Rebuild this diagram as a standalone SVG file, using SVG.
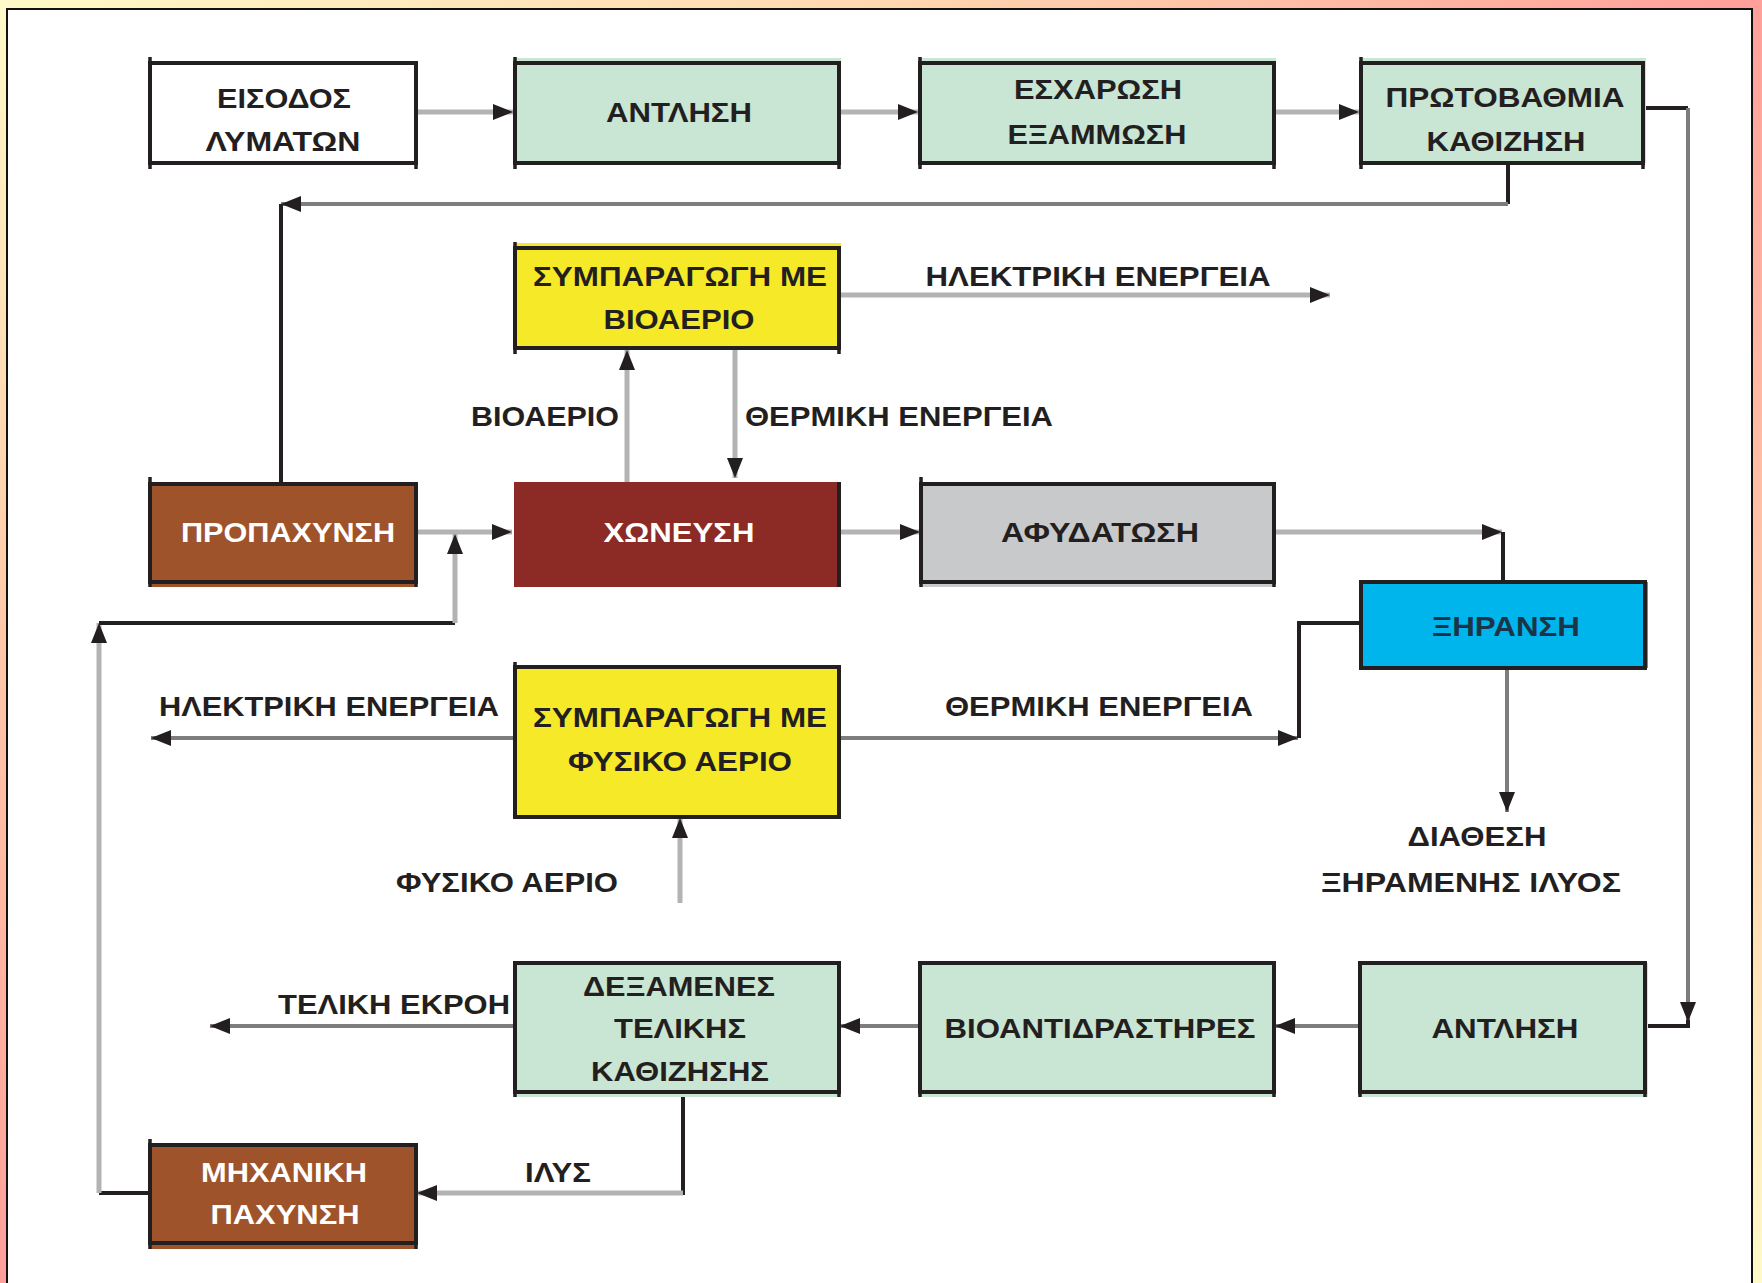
<svg xmlns="http://www.w3.org/2000/svg" width="1762" height="1283" viewBox="0 0 1762 1283">
<defs>
<linearGradient id="gTop" x1="0" y1="0" x2="1" y2="0"><stop offset="0" stop-color="#fffac8"/><stop offset="0.5" stop-color="#ffd8b0"/><stop offset="1" stop-color="#ff9f9a"/></linearGradient>
<linearGradient id="gLeft" x1="0" y1="0" x2="0" y2="1"><stop offset="0" stop-color="#fffac8"/><stop offset="0.5" stop-color="#ffc8a8"/><stop offset="1" stop-color="#ff9f9a"/></linearGradient>
<linearGradient id="gRight" x1="0" y1="0" x2="0" y2="1"><stop offset="0" stop-color="#ff9f9a"/><stop offset="0.5" stop-color="#ffc8a8"/><stop offset="1" stop-color="#fffac8"/></linearGradient>
<marker id="ah" viewBox="0 0 20 16" refX="20" refY="8" markerWidth="20" markerHeight="16" markerUnits="userSpaceOnUse" orient="auto"><path d="M0,0 L20,8 L0,16 Z" fill="#231f20"/></marker>
<style>
.t{font-family:"Liberation Sans",Arial,sans-serif;font-weight:bold;font-size:28px;fill:#231f20;text-anchor:middle}
.w{fill:#ffffff}
.b{fill:none;stroke:#231f20;stroke-width:4}
.tick{fill:none;stroke:#231f20;stroke-width:3.5}
.lg{fill:none;stroke:#b3b3b3;stroke-width:5}
.dg{fill:none;stroke:#7d7d7d;stroke-width:4}
.bk{fill:none;stroke:#231f20;stroke-width:4}
.green{fill:#c9e5d3}
.yel{fill:#f6e928}
.brown{fill:#9f532b}
</style>
</defs>
<rect x="0" y="0" width="1762" height="1283" fill="#ffd8b0"/>
<rect x="0" y="0" width="1762" height="12" fill="url(#gTop)"/>
<rect x="0" y="0" width="9" height="1283" fill="url(#gLeft)"/>
<rect x="1751" y="0" width="11" height="1283" fill="url(#gRight)"/>
<rect x="7" y="9" width="1745" height="1290" fill="#ffffff" stroke="#111" stroke-width="2"/>

<g id="connectors">
<path class="lg" d="M416,112 H513" marker-end="url(#ah)"/>
<path class="lg" d="M839,112 H918" marker-end="url(#ah)"/>
<path class="lg" d="M1274,112 H1359" marker-end="url(#ah)"/>
<path class="bk" d="M1508,165 V204"/>
<path class="dg" d="M1508,204 H281" marker-end="url(#ah)"/>
<path class="bk" d="M281,204 V484"/>
<path class="bk" d="M1643,108 H1688"/>
<path class="dg" d="M1688,108 V1022" marker-end="url(#ah)"/>
<path class="bk" d="M1688,1020 V1026 H1645"/>
<path class="lg" d="M627,482 V350" marker-end="url(#ah)"/>
<path class="lg" d="M735,348 V478" marker-end="url(#ah)"/>
<path class="lg" d="M839,295 H1330" marker-end="url(#ah)"/>
<path class="lg" d="M416,532 H512" marker-end="url(#ah)"/>
<path class="lg" d="M839,532 H920" marker-end="url(#ah)"/>
<path class="lg" d="M1274,532 H1502" marker-end="url(#ah)"/>
<path class="bk" d="M1503,532 V582"/>
<path class="dg" d="M1507,668 V812" marker-end="url(#ah)"/>
<path class="bk" d="M150,1193 H99"/>
<path class="lg" d="M99,1193 V623" marker-end="url(#ah)"/>
<path class="bk" d="M99,623 H455"/>
<path class="lg" d="M455,623 V534" marker-end="url(#ah)"/>
<path class="dg" d="M515,738 H151" marker-end="url(#ah)"/>
<path class="dg" d="M839,738 H1298" marker-end="url(#ah)"/>
<path class="bk" d="M1299,738 V623 H1361"/>
<path class="lg" d="M680,903 V818" marker-end="url(#ah)"/>
<path class="dg" d="M515,1026 H210" marker-end="url(#ah)"/>
<path class="dg" d="M920,1026 H840" marker-end="url(#ah)"/>
<path class="dg" d="M1360,1026 H1275" marker-end="url(#ah)"/>
<path class="bk" d="M683,1092 V1195"/>
<path class="lg" d="M683,1193 H417" marker-end="url(#ah)"/>
</g>

<g id="n-eisodos">
<rect x="150" y="63" width="266" height="100" fill="#ffffff" class="b"/>
<path class="tick" d="M150,57 V169 M416,163 V169"/>
<text class="t" x="284" y="108" textLength="134" lengthAdjust="spacingAndGlyphs">ΕΙΣΟΔΟΣ</text>
<text class="t" x="283" y="151" textLength="155" lengthAdjust="spacingAndGlyphs">ΛΥΜΑΤΩΝ</text>
</g>
<g id="n-antlisi1">
<rect x="515" y="58" width="326" height="105" class="green"/>
<rect x="515" y="63" width="324" height="100" class="b"/>
<path class="tick" d="M515,57 V169 M839,163 V169"/>
<text class="t" x="679" y="122" textLength="146" lengthAdjust="spacingAndGlyphs">ΑΝΤΛΗΣΗ</text>
</g>
<g id="n-escharosi">
<rect x="920" y="58" width="356" height="105" class="green"/>
<rect x="920" y="63" width="354" height="100" class="b"/>
<path class="tick" d="M920,57 V169 M1274,163 V169"/>
<text class="t" x="1098" y="99" textLength="168" lengthAdjust="spacingAndGlyphs">ΕΣΧΑΡΩΣΗ</text>
<text class="t" x="1097" y="144" textLength="179" lengthAdjust="spacingAndGlyphs">ΕΞΑΜΜΩΣΗ</text>
</g>
<g id="n-protovathmia">
<rect x="1361" y="58" width="285" height="105" class="green"/>
<rect x="1361" y="63" width="282" height="100" class="b"/>
<path class="tick" d="M1361,57 V169 M1643,163 V169"/>
<text class="t" x="1505" y="107" textLength="239" lengthAdjust="spacingAndGlyphs">ΠΡΩΤΟΒΑΘΜΙΑ</text>
<text class="t" x="1506" y="151" textLength="159" lengthAdjust="spacingAndGlyphs">ΚΑΘΙΖΗΣΗ</text>
</g>
<g id="n-sympar-bio">
<rect x="515" y="243" width="326" height="105" class="yel"/>
<rect x="515" y="248" width="324" height="100" class="b"/>
<path class="tick" d="M515,242 V354 M839,348 V354"/>
<text class="t" x="680" y="286" textLength="294" lengthAdjust="spacingAndGlyphs">ΣΥΜΠΑΡΑΓΩΓΗ ΜΕ</text>
<text class="t" x="679" y="329" textLength="151" lengthAdjust="spacingAndGlyphs">ΒΙΟΑΕΡΙΟ</text>
</g>
<g id="lbl-top">
<text class="t" x="1098" y="286" textLength="345" lengthAdjust="spacingAndGlyphs">ΗΛΕΚΤΡΙΚΗ ΕΝΕΡΓΕΙΑ</text>
<text class="t" x="545" y="426" textLength="148" lengthAdjust="spacingAndGlyphs">ΒΙΟΑΕΡΙΟ</text>
<text class="t" x="899" y="426" textLength="308" lengthAdjust="spacingAndGlyphs">ΘΕΡΜΙΚΗ ΕΝΕΡΓΕΙΑ</text>
</g>
<g id="n-propachynsi">
<rect x="150" y="484" width="266" height="103" class="brown"/>
<rect x="150" y="484" width="266" height="98" class="b"/>
<path class="tick" d="M150,477 V587 M416,582 V587"/>
<text class="t w" x="288" y="542" textLength="214" lengthAdjust="spacingAndGlyphs">ΠΡΟΠΑΧΥΝΣΗ</text>
</g>
<g id="n-choneysi">
<rect x="514" y="482" width="325" height="105" fill="#8c2a26"/>
<path class="bk" d="M839,482 V587"/>
<text class="t w" x="679" y="542" textLength="151" lengthAdjust="spacingAndGlyphs">ΧΩΝΕΥΣΗ</text>
</g>
<g id="n-afydatosi">
<rect x="921" y="484" width="353" height="103" fill="#c8c9cb"/>
<rect x="921" y="484" width="353" height="98" class="b"/>
<path class="tick" d="M921,477 V587 M1274,582 V587"/>
<text class="t" x="1100" y="542" textLength="198" lengthAdjust="spacingAndGlyphs">ΑΦΥΔΑΤΩΣΗ</text>
</g>
<g id="n-xiransi">
<rect x="1361" y="582" width="287" height="86" fill="#00b5ec"/>
<rect x="1361" y="582" width="284" height="86" class="b"/>
<text class="t" x="1506" y="636" textLength="148" lengthAdjust="spacingAndGlyphs" fill="#1c3447" style="fill:#1c3447">ΞΗΡΑΝΣΗ</text>
</g>
<g id="n-sympar-fysiko">
<rect x="515" y="667" width="324" height="150" class="yel"/>
<rect x="515" y="667" width="324" height="150" class="b"/>
<path class="tick" d="M515,662 V817"/>
<text class="t" x="680" y="727" textLength="294" lengthAdjust="spacingAndGlyphs">ΣΥΜΠΑΡΑΓΩΓΗ ΜΕ</text>
<text class="t" x="680" y="771" textLength="224" lengthAdjust="spacingAndGlyphs">ΦΥΣΙΚΟ ΑΕΡΙΟ</text>
</g>
<g id="lbl-mid">
<text class="t" x="329" y="716" textLength="340" lengthAdjust="spacingAndGlyphs">ΗΛΕΚΤΡΙΚΗ ΕΝΕΡΓΕΙΑ</text>
<text class="t" x="1099" y="716" textLength="308" lengthAdjust="spacingAndGlyphs">ΘΕΡΜΙΚΗ ΕΝΕΡΓΕΙΑ</text>
<text class="t" x="507" y="892" textLength="222" lengthAdjust="spacingAndGlyphs">ΦΥΣΙΚΟ ΑΕΡΙΟ</text>
<text class="t" x="1477" y="846" textLength="139" lengthAdjust="spacingAndGlyphs">ΔΙΑΘΕΣΗ</text>
<text class="t" x="1471" y="892" textLength="300" lengthAdjust="spacingAndGlyphs">ΞΗΡΑΜΕΝΗΣ ΙΛΥΟΣ</text>
</g>
<g id="n-dexamenes">
<rect x="515" y="963" width="324" height="134" class="green"/>
<rect x="515" y="963" width="324" height="129" class="b"/>
<path class="tick" d="M515,1092 V1097 M839,1092 V1097"/>
<text class="t" x="679" y="996" textLength="192" lengthAdjust="spacingAndGlyphs">ΔΕΞΑΜΕΝΕΣ</text>
<text class="t" x="680" y="1038" textLength="132" lengthAdjust="spacingAndGlyphs">ΤΕΛΙΚΗΣ</text>
<text class="t" x="680" y="1081" textLength="178" lengthAdjust="spacingAndGlyphs">ΚΑΘΙΖΗΣΗΣ</text>
</g>
<g id="n-bioantidr">
<rect x="920" y="963" width="354" height="134" class="green"/>
<rect x="920" y="963" width="354" height="129" class="b"/>
<path class="tick" d="M920,1092 V1097 M1274,1092 V1097"/>
<text class="t" x="1100" y="1038" textLength="311" lengthAdjust="spacingAndGlyphs">ΒΙΟΑΝΤΙΔΡΑΣΤΗΡΕΣ</text>
</g>
<g id="n-antlisi2">
<rect x="1360" y="963" width="288" height="134" class="green"/>
<rect x="1360" y="963" width="285" height="129" class="b"/>
<path class="tick" d="M1360,1092 V1097 M1645,1092 V1097"/>
<text class="t" x="1505" y="1038" textLength="147" lengthAdjust="spacingAndGlyphs">ΑΝΤΛΗΣΗ</text>
</g>
<g id="lbl-bottom">
<text class="t" x="394" y="1014" textLength="232" lengthAdjust="spacingAndGlyphs">ΤΕΛΙΚΗ ΕΚΡΟΗ</text>
<text class="t" x="558" y="1182" textLength="66" lengthAdjust="spacingAndGlyphs">ΙΛΥΣ</text>
</g>
<g id="n-michaniki">
<rect x="150" y="1145" width="266" height="104" class="brown"/>
<rect x="150" y="1145" width="266" height="98" class="b"/>
<path class="tick" d="M150,1139 V1249 M416,1243 V1249"/>
<text class="t w" x="284" y="1182" textLength="166" lengthAdjust="spacingAndGlyphs">ΜΗΧΑΝΙΚΗ</text>
<text class="t w" x="285" y="1224" textLength="149" lengthAdjust="spacingAndGlyphs">ΠΑΧΥΝΣΗ</text>
</g>
</svg>
